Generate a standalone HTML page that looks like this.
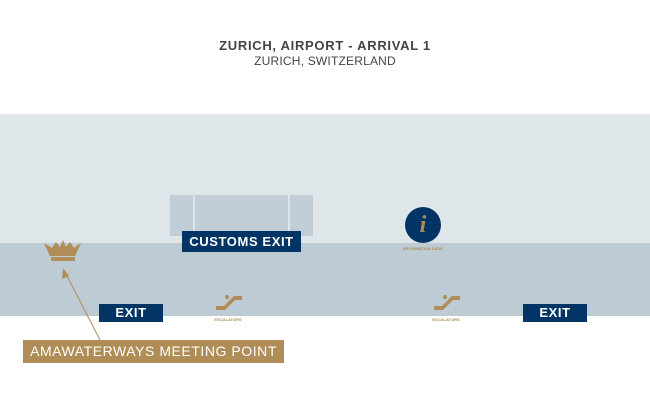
<!DOCTYPE html>
<html><head><style>
body{margin:0;width:650px;height:400px;background:#fff;position:relative;overflow:hidden;font-family:"Liberation Sans",sans-serif}
div{position:absolute}
.lab{background:#033466;color:#fff;font-weight:bold;text-align:center}
.g{color:#b08d57;font-weight:bold;font-size:4px;text-align:center}
</style></head><body>
<div style="left:0;top:38px;width:650px;text-align:center;color:#444;font-weight:bold;font-size:13px;letter-spacing:0.7px">ZURICH, AIRPORT - ARRIVAL 1</div>
<div style="left:0;top:54px;width:650px;text-align:center;color:#444;font-size:12px;letter-spacing:0.2px">ZURICH, SWITZERLAND</div>
<div style="left:0;top:114px;width:650px;height:129px;background:#dfe6ea"></div>
<div style="left:0;top:243px;width:650px;height:73px;background:#bdcbd4"></div>
<div style="left:170px;top:195px;width:23px;height:41px;background:#c1ced7"></div>
<div style="left:195px;top:195px;width:93px;height:41px;background:#c1ced7"></div>
<div style="left:290px;top:195px;width:23px;height:41px;background:#c1ced7"></div>
<div class="lab" style="left:182px;top:231px;width:119px;height:21px;line-height:21px;font-size:13px;letter-spacing:0.6px">CUSTOMS EXIT</div>
<div class="lab" style="left:99px;top:304px;width:64px;height:18px;line-height:18px;font-size:13px;letter-spacing:0.6px">EXIT</div>
<div class="lab" style="left:523px;top:304px;width:64px;height:18px;line-height:18px;font-size:13px;letter-spacing:0.6px">EXIT</div>
<div style="left:405px;top:207px;width:36px;height:36px;border-radius:50%;background:#033466;color:#b08d57;font:italic bold 24px 'Liberation Serif',serif;text-align:center;line-height:36px">i</div>
<div class="g" style="left:390px;top:246px;width:66px">INFORMATION DESK</div>
<svg style="position:absolute;left:0;top:0" width="650" height="400">
<g fill="#b08d57">
<path d="M44 243 L52 248 L56 242 L60 247 L63 240 L66 247 L70 242 L74 248 L81 243 L75 256 L50 256 Z"/>
<rect x="51" y="257" width="24" height="4"/>
<path d="M216 306 L224 306 L234 296 L242 296 L242 300 L235 300 L225 310 L216 310Z"/>
<circle cx="227" cy="297" r="2"/>
<path d="M434 306 L442 306 L452 296 L460 296 L460 300 L453 300 L443 310 L434 310Z"/>
<circle cx="445" cy="297" r="2"/>
</g>
<line x1="100" y1="340" x2="66" y2="274" stroke="#b08d57" stroke-width="1"/>
<path d="M63 268 L62 279 L69 276Z" fill="#b08d57"/>
</svg>
<div class="g" style="left:210px;top:317px;width:36px">ESCALATORS</div>
<div class="g" style="left:428px;top:317px;width:36px">ESCALATORS</div>
<div style="left:23px;top:340px;width:261px;height:23px;line-height:23px;background:#b08d57;color:#fff;font-size:14px;letter-spacing:0.55px;text-align:center">AMAWATERWAYS MEETING POINT</div>
</body></html>
